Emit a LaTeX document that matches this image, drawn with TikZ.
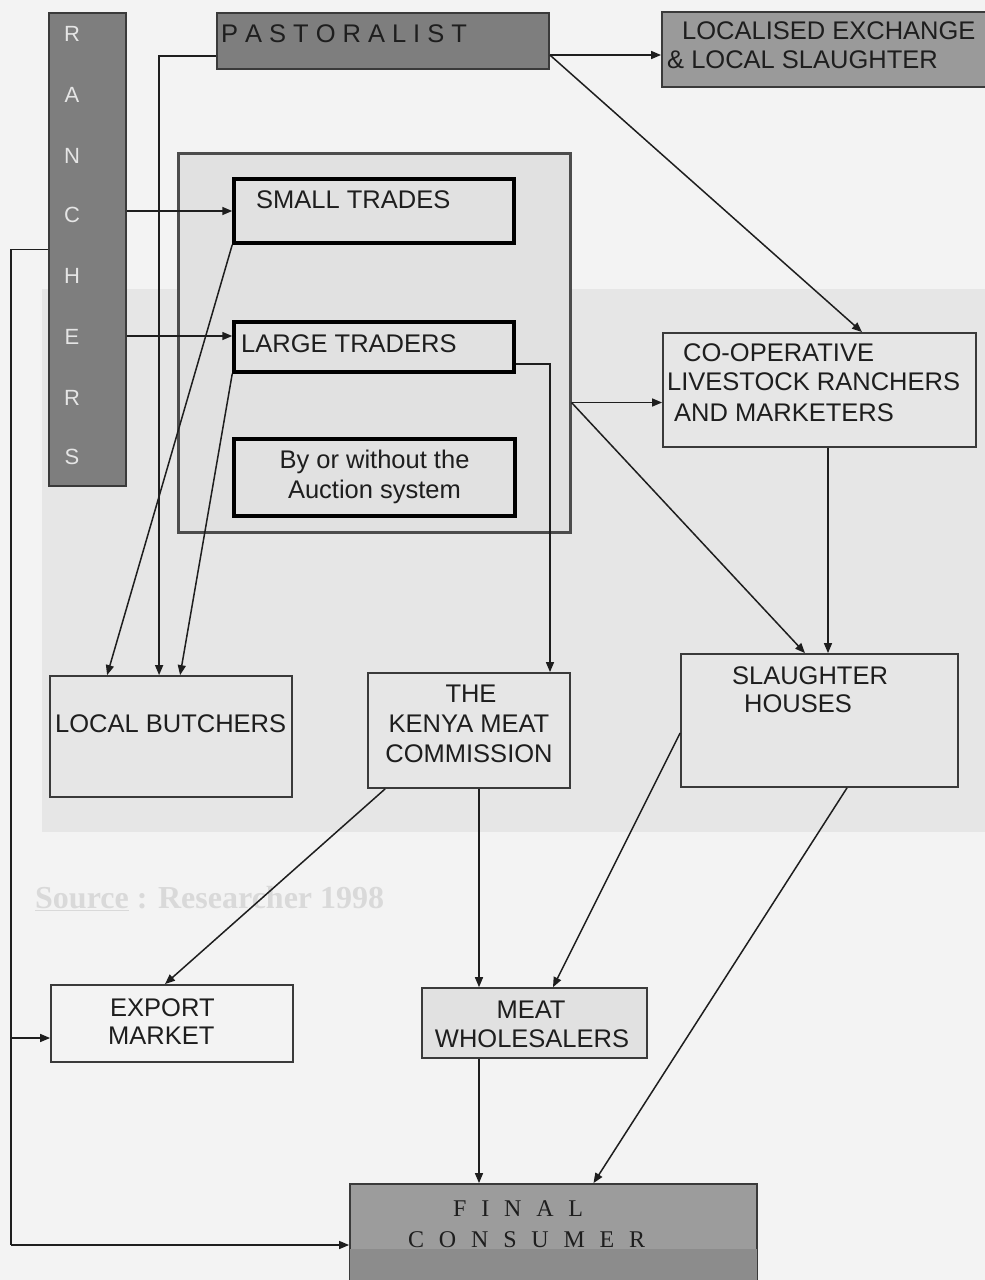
\documentclass[tikz,border=0pt]{standalone}
\usepackage{fontspec}
\setmainfont{Liberation Sans}
\newfontfamily\serifface{Liberation Serif}
\usetikzlibrary{arrows.meta,calc}

\definecolor{paper}{HTML}{F3F3F3}
\definecolor{band}{HTML}{E6E6E6}
\definecolor{ink}{HTML}{1E1E1E}
\definecolor{edge}{HTML}{3A3A3A}
\definecolor{darkfill}{HTML}{7E7E7E}
\definecolor{midfill}{HTML}{9A9A9A}
\definecolor{lightfill}{HTML}{E1E1E1}
\definecolor{finaltop}{HTML}{9C9C9C}
\definecolor{finalbot}{HTML}{8C8C8C}
\definecolor{ghost}{HTML}{D9D9D9}

\newcommand{\fs}[1]{\fontsize{#1}{#1}\selectfont}

\tikzset{
  plainbox/.style={draw=edge, line width=1.8pt, inner sep=0pt},
  tradebox/.style={draw=black, line width=3.5pt, fill=lightfill, inner sep=0pt},
  groupbox/.style={draw=black!70, line width=3pt, fill=lightfill, inner sep=0pt},
  shadebox/.style={draw=edge, line width=1.8pt, inner sep=0pt},
  lbl/.style={inner sep=0pt, text=ink, font=\fs{25.5}},
  vlet/.style={inner sep=0pt, text=white!90!black, font=\fs{22}},
  link/.style={draw=ink, line width=1.5pt},
  arr/.style={link, -{Triangle[length=10pt,width=8pt]}},
}

\begin{document}
\begin{tikzpicture}[x=1pt,y=-1pt]
  \useasboundingbox (0,0) rectangle (985,1280);
  \fill[paper] (0,0) rectangle (985,1280);
  \fill[band] (42,289) rectangle (985,832);

  % faint source line
  \node[inner sep=0pt, anchor=base west, text=ghost, font=\serifface\bfseries\fs{32}] (src)
    at (35,908) {\underline{Source} : Researcher 1998};

  \begin{scope}
    \clip (0,0) rectangle (985,1280);

    % top row
    \node[shadebox, fill=darkfill, minimum width=77pt, minimum height=473pt] (ranch) at (87.5,249.5) {};
    \node[shadebox, fill=darkfill, minimum width=332pt, minimum height=56pt] (past) at (383,41) {};
    \node[shadebox, fill=midfill, minimum width=330pt, minimum height=75pt] (local) at (827,49.5) {};

    % traders group
    \node[groupbox, minimum width=392pt, minimum height=379pt] (outer) at (374,342.5) {};
    \node[tradebox, minimum width=280pt, minimum height=64pt] (small) at (374,211) {};
    \node[tradebox, minimum width=280pt, minimum height=50pt] (large) at (374,347) {};
    \node[tradebox, minimum width=281pt, minimum height=77pt] (auction) at (374.5,477.5) {};

    % right and lower boxes
    \node[plainbox, minimum width=313pt, minimum height=114pt] (coop) at (819.5,390) {};
    \node[plainbox, minimum width=242pt, minimum height=121pt] (butch) at (171,736.5) {};
    \node[plainbox, minimum width=202pt, minimum height=115pt] (kmc) at (469,730.5) {};
    \node[plainbox, minimum width=277pt, minimum height=133pt] (slaught) at (819.5,720.5) {};
    \node[plainbox, minimum width=242pt, minimum height=77pt] (export) at (172,1023.5) {};
    \node[shadebox, fill=lightfill, line width=1.6pt, minimum width=225pt, minimum height=70pt] (whole) at (534.5,1023) {};
    \node[shadebox, fill=finaltop, minimum width=407pt, minimum height=116pt] (final) at (553.5,1242) {};
    \fill[finalbot] ([xshift=0.9pt,yshift=-7pt]final.west) rectangle ([xshift=-0.9pt]final.south east);
  \end{scope}

  % labels
  \foreach \l/\yy [count=\i] in {R/34,A/95,N/156,C/215,H/276,E/337,R/398,S/457}
    \node[vlet] (rl\i) at (72,\yy) {\l};
  \node[lbl, anchor=base west, font=\fs{25.5}] (tpast) at (221,42)
    {P\kern7pt A\kern7pt S\kern7pt T\kern7pt O\kern7pt R\kern7pt A\kern7pt L\kern7pt I\kern7pt S\kern7pt T};
  \node[lbl, anchor=base west] (tloc1) at (682,39) {LOCALISED EXCHANGE};
  \node[lbl, anchor=base west] (tloc2) at (667,68) {\& LOCAL SLAUGHTER};
  \node[lbl, anchor=base west] (tsmall) at (256,208) {SMALL TRADES};
  \node[lbl, anchor=base west] (tlarge) at (241,352) {LARGE TRADERS};
  \node[lbl, anchor=base] (tauc1) at (374.5,468) {By or without the};
  \node[lbl, anchor=base] (tauc2) at (374.5,498) {Auction system};
  \node[lbl, anchor=base west] (tcoop1) at (683,361) {CO-OPERATIVE};
  \node[lbl, anchor=base west] (tcoop2) at (667,390) {LIVESTOCK RANCHERS};
  \node[lbl, anchor=base west] (tcoop3) at (674,421) {AND MARKETERS};
  \node[lbl, anchor=base west] (tbutch) at (55,732) {LOCAL BUTCHERS};
  \node[lbl, anchor=base] (tkmc1) at (471,702) {THE};
  \node[lbl, anchor=base] (tkmc2) at (469,732) {KENYA MEAT};
  \node[lbl, anchor=base] (tkmc3) at (469,762) {COMMISSION};
  \node[lbl, anchor=base] (tsl1) at (810,684) {SLAUGHTER};
  \node[lbl, anchor=base] (tsl2) at (798,712) {HOUSES};
  \node[lbl, anchor=base west] (texp1) at (110,1016) {EXPORT};
  \node[lbl, anchor=base west] (texp2) at (108,1044) {MARKET};
  \node[lbl, anchor=base] (twh1) at (531,1018) {MEAT};
  \node[lbl, anchor=base] (twh2) at (532,1047) {WHOLESALERS};
  \node[lbl, anchor=base west, font=\serifface\fs{24}] (tfin1) at (453,1216)
    {F\kern14.8pt I\kern14.8pt N\kern14.8pt A\kern14.8pt L};
  \node[lbl, anchor=base west, font=\serifface\fs{24}] (tfin2) at (408,1247)
    {C\kern14.8pt O\kern14.8pt N\kern14.8pt S\kern14.8pt U\kern14.8pt M\kern14.8pt E\kern14.8pt R};

  % pastoralist outlets
  \draw[arr] ([yshift=-14pt]past.east) coordinate (pe) -- (pe -| local.west);
  \draw[arr] (pe) -- ([xshift=42.5pt]coop.north);
  \draw[arr] ([yshift=-15pt]past.west) -| ([xshift=110pt]butch.north west);

  % ranchers outlets
  \draw[arr] (ranch.east |- small.west) -- (small.west);
  \draw[arr] ([yshift=11pt]large.west) coordinate (lw) (lw -| ranch.east) -- (lw);
  \coordinate (spineTop) at (11,249.5);
  \coordinate (spineBot) at (11,1245);
  \draw[link] (ranch.west) -- (spineTop) -- (spineBot);
  \draw[arr] (spineBot) -- (spineBot -| final.west);
  \draw[arr] ([yshift=-14.5pt]export.west) coordinate (ew) (ew -| spineTop) -- (ew);

  % traders outlets
  \draw[arr] (small.south west) -- ([xshift=58pt]butch.north west);
  \draw[arr] (large.south west) -- ([xshift=131pt]butch.north west);
  \draw[arr] ([yshift=-17pt]large.east) -| ([xshift=81pt]kmc.north);
  \draw[arr] ([yshift=-60pt]outer.east) coordinate (oe) -- (oe -| coop.west);
  \draw[arr] (oe) -- ([xshift=-14.5pt]slaught.north);

  % processors
  \draw[arr] ([xshift=8.5pt]coop.south) coordinate (cs) -- (cs |- slaught.north);
  \draw[arr] ([xshift=18pt]kmc.south west) -- ([xshift=-7pt]export.north);
  \draw[arr] ([xshift=10pt]kmc.south) coordinate (ks) -- (ks |- whole.north);
  \draw[arr] ([yshift=-12.5pt]slaught.west) -- ([xshift=18.5pt]whole.north);
  \draw[arr] ([xshift=27.5pt]slaught.south) -- ([xshift=40pt]final.north);
  \draw[arr] ([xshift=-55.5pt]whole.south) coordinate (ws) -- (ws |- final.north);
\end{tikzpicture}
\end{document}
